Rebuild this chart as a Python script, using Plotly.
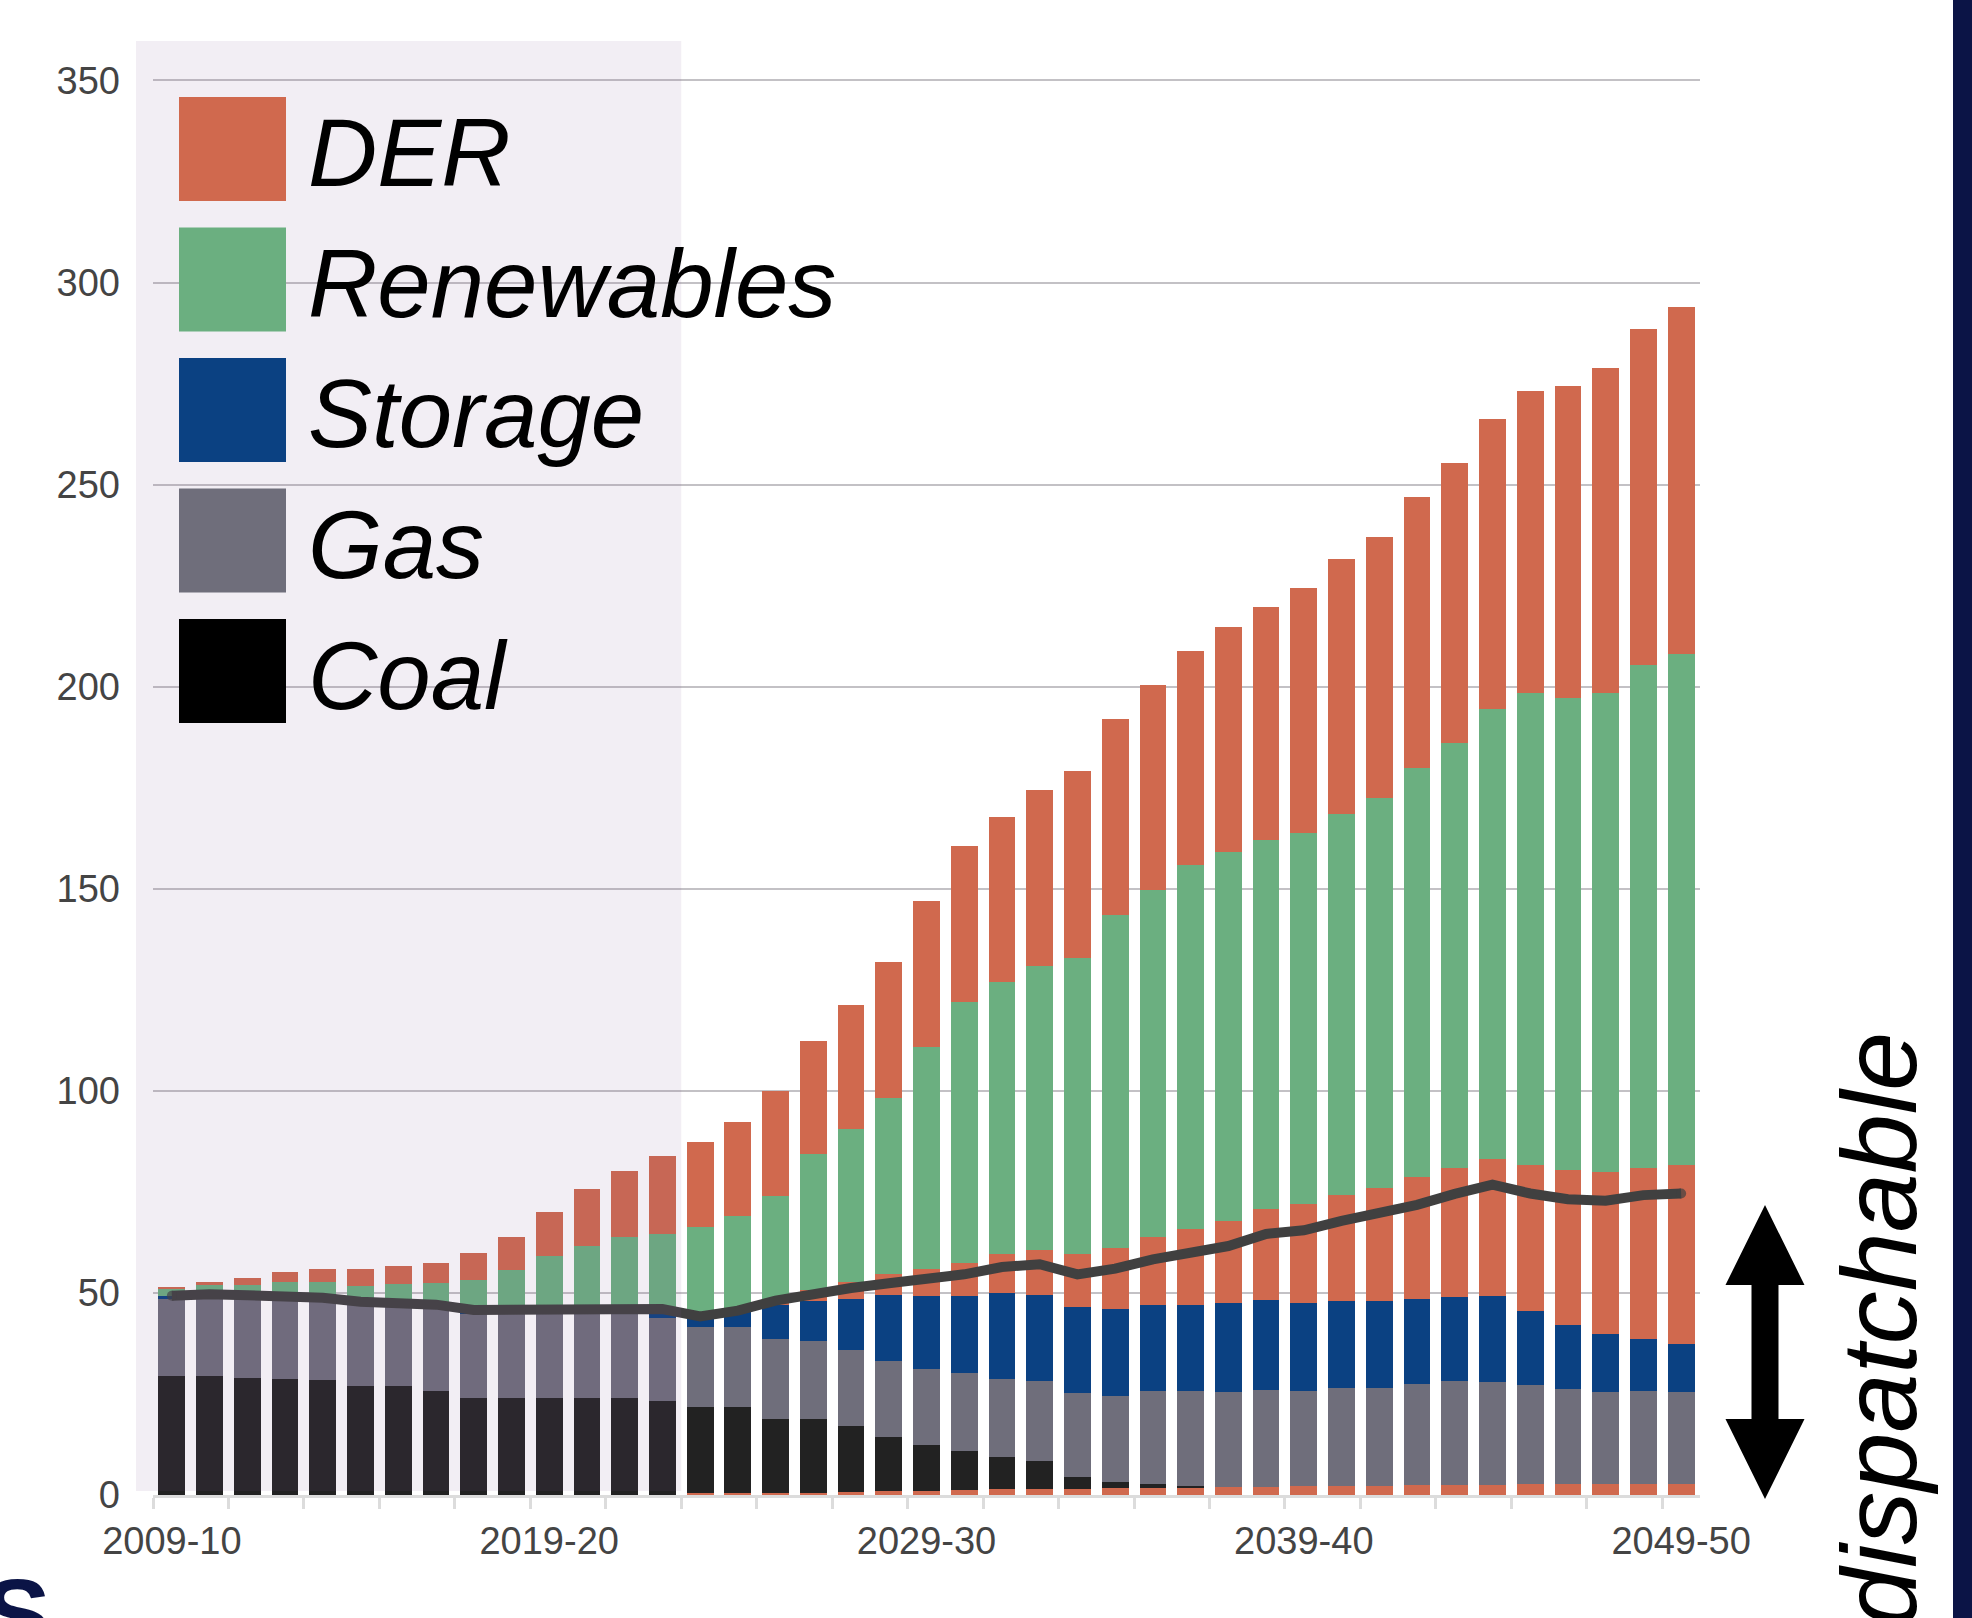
import plotly.graph_objects as go

# ---------------- data ----------------
years = [f"{y}-{str(y + 1)[-2:]}" for y in range(2009, 2050)]
label_years = ["2009-10", "2019-20", "2029-30", "2039-40", "2049-50"]

der_base = [0, 0, 0, 0, 0, 0, 0, 0, 0, 0, 0, 0, 0, 0, 0.4, 0.5, 0.5, 0.6, 0.7, 0.9,
            1.0, 1.2, 1.4, 1.5, 1.6, 1.7, 1.8, 1.9, 2.0, 2.1, 2.2, 2.2, 2.3, 2.4, 2.5,
            2.5, 2.6, 2.6, 2.7, 2.7, 2.7]
coal = [29.4, 29.4, 28.9, 28.7, 28.4, 26.9, 26.9, 25.7, 24.1, 24.1, 24.1, 24.1, 24.1,
        23.3, 21.3, 21.2, 18.4, 18.3, 16.4, 13.4, 11.4, 9.6, 8.0, 6.9, 2.8, 1.4, 0.8,
        0.3, 0, 0, 0, 0, 0, 0, 0, 0, 0, 0, 0, 0, 0]
gas = [19.2, 19.6, 19.9, 20.1, 20.0, 20.7, 20.6, 21.1, 20.7, 20.8, 20.9, 20.8, 20.8,
       20.5, 19.8, 19.8, 19.8, 19.1, 18.7, 18.8, 18.8, 19.3, 19.4, 19.9, 20.9, 21.5,
       23.2, 23.6, 23.5, 23.8, 23.6, 24.3, 24.2, 25.0, 25.6, 25.4, 24.7, 23.7, 22.8,
       23.1, 22.7]
storage = [0.7, 0.2, 0.2, 0.2, 0.2, 0.2, 0.2, 0.2, 0.4, 0.2, 0.2, 0.5, 0.5, 1.2, 3.1,
           4.1, 8.3, 9.9, 12.8, 16.4, 18.1, 19.2, 21.2, 21.1, 21.1, 21.3, 21.1, 21.1,
           21.9, 22.4, 21.6, 21.6, 21.4, 21.2, 21.0, 21.4, 18.3, 15.8, 14.3, 12.9, 12.0]
der_mid = [0, 0, 0, 0, 0, 0, 0, 0, 0, 0, 0, 0, 0, 0, 0, 0, 1.0, 2.7, 4.0, 5.2, 6.7,
           8.2, 9.6, 11.3, 13.2, 15.1, 17.0, 19.0, 20.4, 22.5, 24.7, 26.1, 28.1, 30.1,
           31.9, 33.9, 36.0, 38.2, 40.1, 42.3, 44.2]
renewables = [1.9, 2.8, 3.0, 3.7, 4.1, 4.0, 4.4, 5.5, 8.1, 10.5, 14.0, 16.2, 18.5, 19.5,
              21.8, 23.5, 26.1, 33.8, 37.9, 43.6, 54.8, 64.5, 67.3, 70.3, 73.3, 82.4,
              85.8, 90.0, 91.2, 91.3, 91.6, 94.4, 96.4, 101.1, 105.0, 111.3, 116.9,
              117.0, 118.6, 124.4, 126.6]
der_top = [0.3, 0.8, 1.6, 2.5, 3.1, 4.1, 4.6, 4.9, 6.5, 8.3, 10.7, 14.0, 16.3, 19.5,
           21.0, 23.3, 25.8, 27.9, 30.8, 33.7, 36.2, 38.6, 40.8, 43.5, 46.3, 48.6, 50.7,
           52.9, 55.7, 57.6, 60.6, 62.9, 64.6, 67.2, 69.4, 71.8, 74.7, 77.1, 80.3, 83.0,
           85.8]
dispatchable = [49.3, 49.7, 49.4, 49.2, 48.8, 47.8, 47.7, 47.1, 45.8, 45.8, 46.0, 46.2,
                46.2, 46.0, 44.2, 45.6, 48.1, 49.9, 51.2, 52.4, 53.3, 54.6, 56.4, 57.1,
                54.6, 56.0, 58.3, 59.9, 61.6, 64.6, 65.5, 67.8, 69.6, 71.8, 74.5, 76.8,
                74.6, 73.2, 72.8, 74.2, 74.6]

legend_names = ["DER", "Renewables", "Storage", "Gas", "Coal"]
legend_colors = ["#D0694E", "#6BAF80", "#0B4182", "#6F6E7B", "#000000"]

C_DER, C_REN, C_STO, C_GAS, C_COAL = "#D0694E", "#6BAF80", "#0B4182", "#6F6E7B", "#222222"

# ---------------- geometry helpers ----------------
W, H = 1972, 1618
ML, MR, MT, MB = 153, 272, 40, 123
PW, PH = W - ML - MR, H - MT - MB


def px(xp):
    return (xp - ML) / PW


def py(yp):
    return (H - MB - yp) / PH


x = list(range(len(years)))

fig = go.Figure()
stack = [
    ("DER (base)", der_base, C_DER),
    ("Coal", coal, C_COAL),
    ("Gas", gas, C_GAS),
    ("Storage", storage, C_STO),
    ("DER (mid)", der_mid, C_DER),
    ("Renewables", renewables, C_REN),
    ("DER", der_top, C_DER),
]
for name, vals, col in stack:
    fig.add_trace(go.Bar(x=x, y=vals, name=name, marker_color=col,
                         marker_line_width=0, width=0.71, showlegend=False,
                         customdata=years))

n = len(dispatchable)
end_sizes = [10 if i in (0, n - 1) else 0 for i in range(n)]
fig.add_trace(go.Scatter(x=x, y=dispatchable, mode="lines+markers",
                         line=dict(color="#404040", width=10),
                         marker=dict(size=end_sizes, color="#404040", line_width=0),
                         showlegend=False, name="Dispatchable"))

tickvals = [years.index(l) for l in label_years]

shapes = []
# shaded historical region (overlay)
shapes.append(dict(type="rect", xref="paper", yref="paper",
                   x0=px(136), x1=(13.5 + 0.5) / 41, y0=py(1491), y1=py(41),
                   fillcolor="rgba(125,85,145,0.10)", line_width=0, layer="above"))
# legend swatches
for i, col in enumerate(legend_colors):
    top = 97 + i * 130.5
    shapes.append(dict(type="rect", xref="paper", yref="paper",
                       x0=px(179), x1=px(286), y0=py(top + 104), y1=py(top),
                       fillcolor=col, line_width=0, layer="above"))
# navy strip at right edge
shapes.append(dict(type="rect", xref="paper", yref="paper",
                   x0=px(1953), x1=px(1985), y0=py(1640), y1=py(-20),
                   fillcolor="#0B1446", line_width=0, layer="above"))
# double-headed arrow
cx, sw, hw = 1765, 13.5, 39.5
pts = [(cx, 1205), (cx + hw, 1285), (cx + sw, 1285), (cx + sw, 1419), (cx + hw, 1419),
       (cx, 1499), (cx - hw, 1419), (cx - sw, 1419), (cx - sw, 1285), (cx - hw, 1285)]
path = "M " + " L ".join(f"{px(a):.5f},{py(b):.5f}" for a, b in pts) + " Z"
shapes.append(dict(type="path", xref="paper", yref="paper", path=path,
                   fillcolor="#000000", line_width=0, layer="above"))

annotations = []
for i, name in enumerate(legend_names):
    cy = 97 + i * 130.5 + 56
    annotations.append(dict(xref="paper", yref="paper", x=px(306), y=py(cy),
                            xanchor="left", yanchor="middle", text=f"<i>{name}</i>",
                            showarrow=False,
                            font=dict(family="Liberation Sans, Arial, sans-serif",
                                      size=96, color="#000000")))
annotations.append(dict(xref="paper", yref="paper", x=px(1879), y=py(1330),
                        xanchor="center", yanchor="middle", textangle=-90,
                        text="<i>dispatchable</i>", showarrow=False,
                        font=dict(family="Liberation Sans, Arial, sans-serif",
                                  size=106, color="#000000")))
annotations.append(dict(xref="paper", yref="paper", x=px(17), y=py(1556),
                        xanchor="center", yanchor="top", text="<b>S</b>",
                        showarrow=False,
                        font=dict(family="Liberation Sans, Arial, sans-serif",
                                  size=100, color="#0B1446")))

fig.update_layout(
    width=W, height=H,
    margin=dict(l=ML, r=MR, t=MT, b=MB, pad=0),
    barmode="stack", bargap=0.3,
    paper_bgcolor="white", plot_bgcolor="white",
    shapes=shapes, annotations=annotations,
    font=dict(family="Liberation Sans, Arial, sans-serif", size=38, color="#444444"),
    xaxis=dict(range=[-0.5, 40.5], tickmode="array", tickvals=tickvals,
               ticktext=label_years, ticks="", showgrid=False, zeroline=False,
               showline=True, linecolor="#dcdcdc", linewidth=2.5,
               ticklabelstandoff=11, layer="above traces",
               tickfont=dict(size=38, color="#444444"),
               minor=dict(tickmode="array",
                          tickvals=[v - 0.5 for v in range(0, 41, 2)],
                          ticks="outside", ticklen=11, tickwidth=2.5,
                          tickcolor="#dcdcdc", showgrid=False)),
    yaxis=dict(range=[0, 360], tickmode="array", tickvals=list(range(0, 351, 50)),
               ticks="", showgrid=True, gridcolor="#c3c1c5", gridwidth=2.3,
               zeroline=False, showline=False, ticklabelstandoff=32,
               layer="above traces",
               tickfont=dict(size=38, color="#444444")),
)

fig.write_html("out.html")
